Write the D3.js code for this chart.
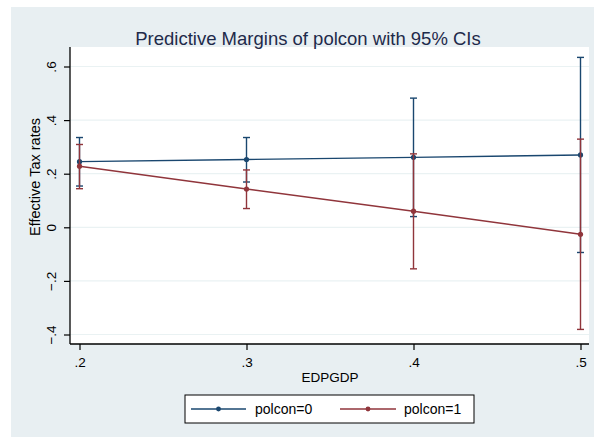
<!DOCTYPE html>
<html>
<head>
<meta charset="utf-8">
<script src="https://cdn.jsdelivr.net/npm/d3@7"></script>
<style>
  html, body { margin: 0; padding: 0; background: #ffffff; }
  svg { display: block; font-family: "Liberation Sans", Arial, sans-serif; }
</style>
</head>
<body>
<svg id="chart" width="594" height="437"></svg>
<script>
// Predictive margins of polcon at selected EDPGDP values
const edpgdp = [0.2, 0.3, 0.4, 0.5];
const xTicks = [0.2, 0.3, 0.4, 0.5];
const yTicks = [-0.4, -0.2, 0, 0.2, 0.4, 0.6];

const seriesNames = ["polcon=0", "polcon=1"];
const polcon0 = [0.245, 0.253, 0.261, 0.270];
const polcon0Lo = [0.154, 0.169, 0.040, -0.094];
const polcon0Hi = [0.335, 0.335, 0.482, 0.634];
const polcon1 = [0.228, 0.143, 0.060, -0.026];
const polcon1Lo = [0.144, 0.070, -0.155, -0.381];
const polcon1Hi = [0.309, 0.214, 0.274, 0.329];

const colors = ["#1a476f", "#90353b"];

const series = [
  { name: seriesNames[0], color: colors[0], pts: edpgdp.map((x, i) => ({ x, y: polcon0[i], lo: polcon0Lo[i], hi: polcon0Hi[i] })) },
  { name: seriesNames[1], color: colors[1], pts: edpgdp.map((x, i) => ({ x, y: polcon1[i], lo: polcon1Lo[i], hi: polcon1Hi[i] })) }
];

const svg = d3.select("#chart");

// graph region background
svg.append("rect").attr("x", 11).attr("y", 7).attr("width", 583).attr("height", 430).attr("fill", "#e8eff2");

const plot = { left: 70, right: 589, top: 47, bottom: 344 };
svg.append("rect")
  .attr("x", plot.left).attr("y", plot.top)
  .attr("width", plot.right - plot.left).attr("height", plot.bottom - plot.top)
  .attr("fill", "#ffffff");

const x = d3.scaleLinear().domain([0.2, 0.5]).range([79.5, 580.5]);
const y = d3.scaleLinear().domain([0, 0.6]).range([227.3, 66.5]);

// horizontal grid lines
svg.append("g").selectAll("line").data(yTicks).join("line")
  .attr("x1", plot.left).attr("x2", plot.right)
  .attr("y1", d => y(d)).attr("y2", d => y(d))
  .attr("stroke", "#eaf2f3").attr("stroke-width", 1.2);

// title
svg.append("text").attr("x", 308).attr("y", 45).attr("text-anchor", "middle")
  .attr("font-size", 18.5).attr("fill", "#1e2a4a").text("Predictive Margins of polcon with 95% CIs");

// y axis
const fmt = d => d === 0 ? "0" : d3.format(".1f")(d).replace("0.", ".");
const yAxis = d3.axisLeft(y).tickValues(yTicks).tickSize(6).tickPadding(0).tickFormat(fmt);
const gy = svg.append("g").attr("transform", `translate(${plot.left},0)`).call(yAxis);
gy.select(".domain").attr("d", `M0,${plot.top}V${plot.bottom}`).attr("stroke", "#000").attr("stroke-width", 1.3);
gy.selectAll(".tick line").attr("stroke", "#000").attr("stroke-width", 1.2);
// labels turned upright along the axis, centred on each tick
gy.selectAll(".tick text")
  .attr("font-size", 13.5).attr("fill", "#000")
  .attr("font-family", "Liberation Sans, Arial, sans-serif")
  .attr("text-anchor", "middle")
  .attr("x", 0).attr("y", 0).attr("dy", "0")
  .attr("transform", "translate(-14,0) rotate(-90)");

// x axis
const xAxis = d3.axisBottom(x).tickValues(xTicks).tickSize(6).tickPadding(7).tickFormat(fmt);
const gx = svg.append("g").attr("transform", `translate(0,${plot.bottom})`).call(xAxis);
gx.select(".domain").attr("d", `M${plot.left},0H${plot.right}`).attr("stroke", "#000").attr("stroke-width", 1.3);
gx.selectAll(".tick line").attr("stroke", "#000").attr("stroke-width", 1.2);
gx.selectAll(".tick text").attr("font-size", 13.5).attr("fill", "#000")
  .attr("font-family", "Liberation Sans, Arial, sans-serif");

// axis titles
svg.append("text").attr("x", 330).attr("y", 382).attr("text-anchor", "middle")
  .attr("font-size", 13.5).attr("fill", "#000").text("EDPGDP");
svg.append("text").attr("transform", "translate(40,177) rotate(-90)").attr("text-anchor", "middle")
  .attr("font-size", 14.5).attr("fill", "#000").text("Effective Tax rates");

// series: connecting lines, CI bars with caps, markers
const line = d3.line().x(d => x(d.x)).y(d => y(d.y));
series.forEach(s => {
  const g = svg.append("g");
  g.append("path").datum(s.pts).attr("d", line)
    .attr("fill", "none").attr("stroke", s.color).attr("stroke-width", 1.4);
  g.selectAll("line.ci").data(s.pts).join("line").attr("class", "ci")
    .attr("x1", d => x(d.x)).attr("x2", d => x(d.x))
    .attr("y1", d => y(d.lo)).attr("y2", d => y(d.hi))
    .attr("stroke", s.color).attr("stroke-width", 1.4);
  ["lo", "hi"].forEach(k => {
    g.selectAll("line.cap" + k).data(s.pts).join("line").attr("class", "cap" + k)
      .attr("x1", d => x(d.x) - 3.5).attr("x2", d => x(d.x) + 3.5)
      .attr("y1", d => y(d[k])).attr("y2", d => y(d[k]))
      .attr("stroke", s.color).attr("stroke-width", 1.4);
  });
  g.selectAll("circle").data(s.pts).join("circle")
    .attr("cx", d => x(d.x)).attr("cy", d => y(d.y)).attr("r", 2.6)
    .attr("fill", s.color);
});

// legend
const lg = svg.append("g");
lg.append("rect").attr("x", 185).attr("y", 395).attr("width", 289).attr("height", 28)
  .attr("fill", "#ffffff").attr("stroke", "#000").attr("stroke-width", 1);
const legendPos = [{ x1: 191, x2: 246, tx: 255 }, { x1: 340, x2: 396, tx: 404 }];
series.forEach((s, i) => {
  const p = legendPos[i];
  lg.append("line").attr("x1", p.x1).attr("x2", p.x2).attr("y1", 409).attr("y2", 409)
    .attr("stroke", s.color).attr("stroke-width", 1.4);
  lg.append("circle").attr("cx", (p.x1 + p.x2) / 2).attr("cy", 409).attr("r", 2.4).attr("fill", s.color);
  lg.append("text").attr("x", p.tx).attr("y", 414).attr("font-size", 14).attr("fill", "#000").text(s.name);
});
</script>
</body>
</html>
